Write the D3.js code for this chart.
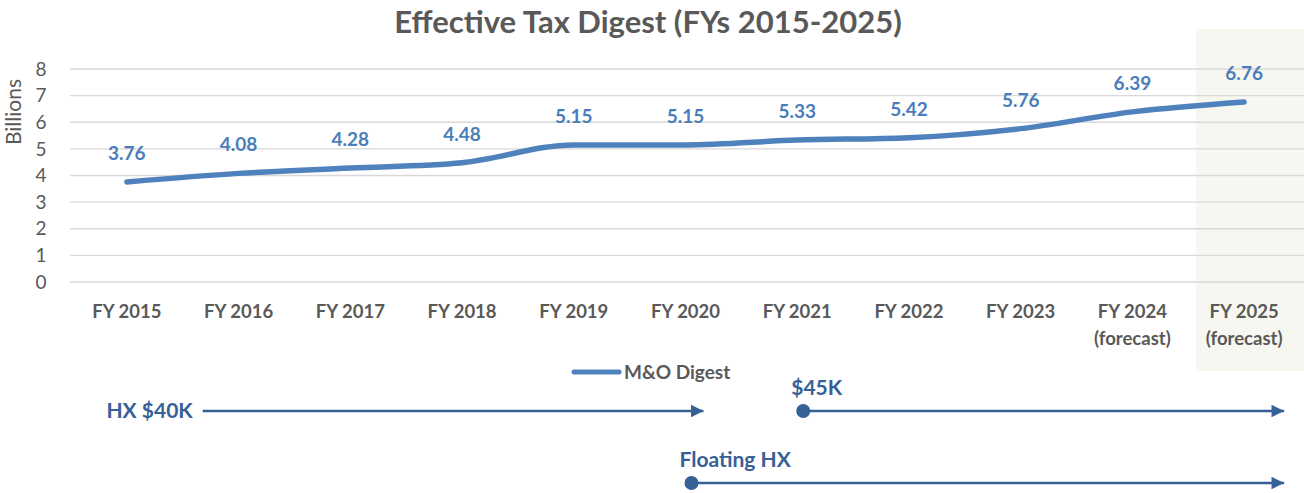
<!DOCTYPE html>
<meta charset="utf-8">
<title>Effective Tax Digest</title>
<style>
body { margin: 0; background: #fff; font-family: Lato, "Open Sans", sans-serif; }
</style>
<body></body>
<script src="https://cdn.jsdelivr.net/npm/d3@7"></script>
<script>

var years = ["FY 2015", "FY 2016", "FY 2017", "FY 2018", "FY 2019", "FY 2020",
             "FY 2021", "FY 2022", "FY 2023", "FY 2024", "FY 2025"];
var subLabels = ["", "", "", "", "", "", "", "", "", "(forecast)", "(forecast)"];
var digest = [3.76, 4.08, 4.28, 4.48, 5.15, 5.15, 5.33, 5.42, 5.76, 6.39, 6.76];
var yTicks = [0, 1, 2, 3, 4, 5, 6, 7, 8];
var forecastYears = ["FY 2025"];

// homestead exemption timeline, from/to are categories
var hxLines = [
  {label: "HX $40K", from: "FY 2016", to: "FY 2020", dot: false, row: 0},
  {label: "$45K", from: "FY 2021", to: "FY 2025", dot: true, row: 0},
  {label: "Floating HX", from: "FY 2020", to: "FY 2025", dot: true, row: 1}
];

var width = 1304,
    height = 493;
var grey = "#595959",
    blue = "#4f81bd",
    navy = "#366096";

var svg = d3.select("body").append("svg")
    .attr("width", width)
    .attr("height", height);

var x = d3.scaleBand()
    .domain(years)
    .range([71, 1300]);

var y = d3.scaleLinear()
    .domain([0, 8])
    .range([282, 69]);

// forecast shading
svg.selectAll("rect.fc")
    .data(forecastYears)
  .enter().append("rect")
    .attr("class", "fc")
    .attr("x", function(d) { return x(d) + 8; })
    .attr("y", 29)
    .attr("width", x.bandwidth() + 20)
    .attr("height", 342)
    .attr("fill", "#f7f7f1");

// grid
svg.append("g").selectAll("line")
    .data(yTicks)
  .enter().append("line")
    .attr("x1", 70)
    .attr("x2", width)
    .attr("y1", function(d) { return y(d); })
    .attr("y2", function(d) { return y(d); })
    .attr("stroke", "#d9d9d9")
    .attr("stroke-width", 1.3);

svg.append("g").selectAll("text")
    .data(yTicks)
  .enter().append("text")
    .attr("x", 41)
    .attr("y", function(d) { return y(d); })
    .attr("dy", "0.35em")
    .attr("text-anchor", "middle")
    .attr("font-size", 19)
    .attr("fill", grey)
    .text(function(d) { return d; });

svg.append("text")
    .attr("transform", "translate(21,112) rotate(-90)")
    .attr("text-anchor", "middle")
    .attr("font-size", 21)
    .attr("fill", grey)
    .text("Billions");

// title
svg.append("text")
    .attr("x", 648)
    .attr("y", 33)
    .attr("text-anchor", "middle")
    .attr("font-size", 31)
    .attr("font-weight", "bold")
    .attr("fill", grey)
    .text("Effective Tax Digest (FYs 2015-2025)");

// category labels
var cat = svg.append("g").selectAll("g")
    .data(years)
  .enter().append("g");

cat.append("text")
    .attr("x", function(d) { return x(d) + x.bandwidth() / 2; })
    .attr("y", 318)
    .attr("text-anchor", "middle")
    .attr("font-size", 18.5)
    .attr("font-weight", "bold")
    .attr("fill", grey)
    .text(function(d) { return d; });

cat.append("text")
    .attr("x", function(d) { return x(d) + x.bandwidth() / 2; })
    .attr("y", 345)
    .attr("text-anchor", "middle")
    .attr("font-size", 18.5)
    .attr("font-weight", "bold")
    .attr("fill", grey)
    .text(function(d, i) { return subLabels[i]; });

// line
var line = d3.line()
    .x(function(d, i) { return x(years[i]) + x.bandwidth() / 2; })
    .y(function(d) { return y(d); })
    .curve(d3.curveMonotoneX);

svg.append("path")
    .datum(digest)
    .attr("d", line)
    .attr("fill", "none")
    .attr("stroke", blue)
    .attr("stroke-width", 5.5)
    .attr("stroke-linecap", "round");

svg.append("g").selectAll("text")
    .data(digest)
  .enter().append("text")
    .attr("x", function(d, i) { return x(years[i]) + x.bandwidth() / 2; })
    .attr("y", function(d) { return y(d) - 22; })
    .attr("text-anchor", "middle")
    .attr("font-size", 19)
    .attr("font-weight", "bold")
    .attr("fill", "#4a7ebb")
    .text(function(d) { return d.toFixed(2); });

// legend
svg.append("line")
    .attr("x1", 574).attr("x2", 619)
    .attr("y1", 372).attr("y2", 372)
    .attr("stroke", blue)
    .attr("stroke-width", 5)
    .attr("stroke-linecap", "round");
svg.append("text")
    .attr("x", 624)
    .attr("y", 379)
    .attr("font-size", 19)
    .attr("font-weight", "bold")
    .attr("fill", grey)
    .text("M&O Digest");

// arrow timelines
svg.append("defs").append("marker")
    .attr("id", "head")
    .attr("viewBox", "0 0 10 10")
    .attr("refX", 10).attr("refY", 5)
    .attr("markerWidth", 5.5).attr("markerHeight", 6)
    .attr("markerUnits", "strokeWidth")
    .attr("orient", "auto")
  .append("path")
    .attr("d", "M0,0L10,5L0,10Z")
    .attr("fill", navy);

var rowY = [411, 483];

hxLines.forEach(function(h) {
  var yy = rowY[h.row];
  var x1, x2;
  if (h.dot) {
    x1 = x(h.from) + x.bandwidth() / 2 + 6;
    x2 = x(h.to) + x.bandwidth() / 2 + 40;
  } else {
    x1 = x(h.from) + 20;
    x2 = x(h.to) + x.bandwidth() / 2 + 18;
  }
  svg.append("line")
      .attr("x1", x1).attr("x2", x2)
      .attr("y1", yy).attr("y2", yy)
      .attr("stroke", navy)
      .attr("stroke-width", 2.3)
      .attr("marker-end", "url(#head)");
  if (h.dot) {
    svg.append("circle")
        .attr("cx", x1).attr("cy", yy)
        .attr("r", 7)
        .attr("fill", navy);
    svg.append("text")
        .attr("x", x1 - 12)
        .attr("y", yy - 16)
        .attr("font-size", 21)
        .attr("font-weight", "bold")
        .attr("fill", navy)
        .text(h.label);
  } else {
    svg.append("text")
        .attr("x", x1 - 10)
        .attr("y", yy + 7)
        .attr("text-anchor", "end")
        .attr("font-size", 21)
        .attr("font-weight", "bold")
        .attr("fill", navy)
        .text(h.label);
  }
});

</script>
